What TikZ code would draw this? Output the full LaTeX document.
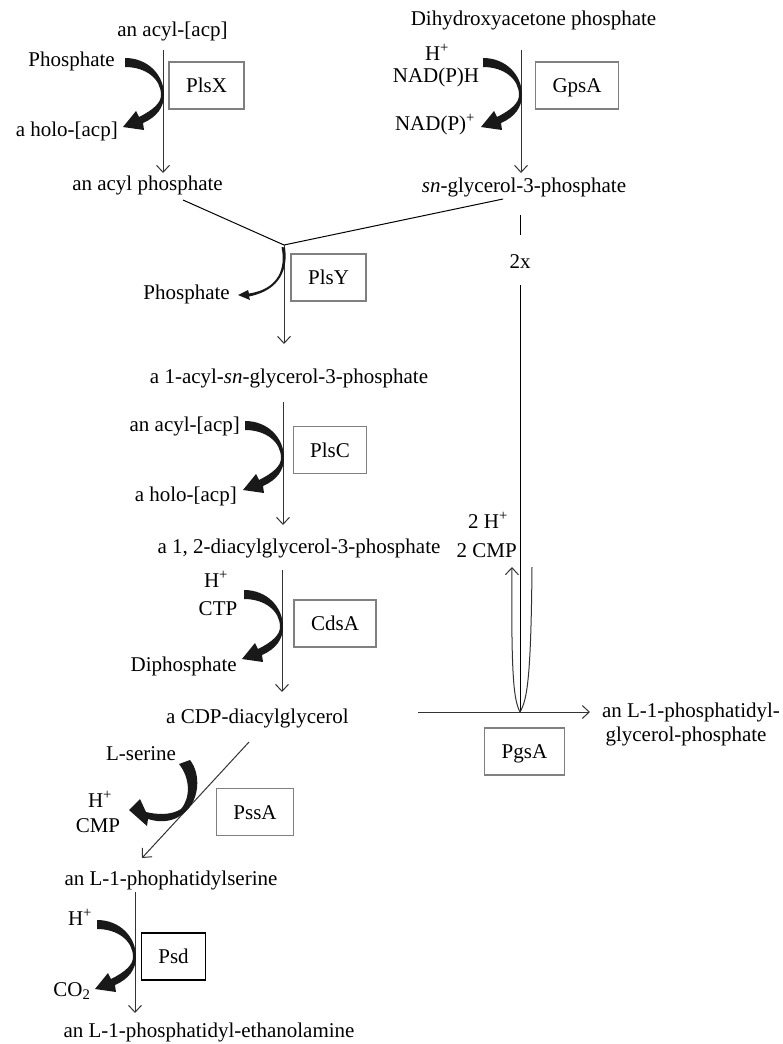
\documentclass[tikz,border=0pt]{standalone}
\usepackage{fontspec}
\setmainfont{Liberation Serif}
\usetikzlibrary{arrows.meta}
\tikzset{
  lbl/.style={inner sep=0pt, anchor=base, font=\fontsize{21}{25}\selectfont},
  lble/.style={lbl, anchor=base east},
  enz/.style={draw=black!50, line width=1.2pt, inner xsep=17pt, inner ysep=0pt,
    minimum height=47pt, text height=14pt, text depth=0pt, font=\fontsize{21}{25}\selectfont},
  flow/.style={draw=black!80, line width=1pt, -{Straight Barb[length=7pt,width=13pt]}},
  plain/.style={draw=black, line width=1pt},
  bend arrow/.pic={\fill[black!90] (-38,-37) .. controls (-15,-37) and (1,-20) .. (1,0)
      .. controls (1,12) and (-6,22) .. (-20,28) -- (-19,35) -- (-40,32) -- (-27,16) -- (-24,22)
      .. controls (-10,15) and (-2,8) .. (-2,0)
      .. controls (-2,-16) and (-17,-28) .. (-38,-28) -- cycle;}
}
\begin{document}
\begin{tikzpicture}[x=1pt,y=-1pt]
\useasboundingbox (0,0) rectangle (782,1044);
% ---------- PlsX ----------
\node[lbl] (acylacp) at (172.5,36) {an acyl-[acp]};
\node[lble] (phos1) at (115,66) {Phosphate};
\node[lble] (holo1) at (118,136) {a holo-[acp]};
\node[lbl] (acylP) at (147.5,190) {an acyl phosphate};
\node[enz] (plsx) at (206.5,85.5) {PlsX};
\coordinate (x1) at (163,50);
\coordinate (x2) at (163,173);
\draw[flow] (x1) -- (x2);
\pic at (163,95) {bend arrow};
% ---------- GpsA ----------
\node[lbl] (dhap) at (533.5,25) {Dihydroxyacetone phosphate};
\node[lbl] (gH) at (437,60) {H\textsuperscript{+}};
\node[lbl] (gNADH) at (436,82) {NAD(P)H};
\node[lbl] (gNADp) at (435,130) {NAD(P)\textsuperscript{+}};
\node[lbl] (g3p) at (524,192) {\textit{sn}-glycerol-3-phosphate};
\node[enz] (gpsa) at (577,85.5) {GpsA};
\coordinate (y1) at (521,50);
\coordinate (y2) at (521,173);
\draw[flow] (y1) -- (y2);
\pic at (521,95) {bend arrow};
% ---------- PlsY ----------
\coordinate (c1) at (183,200);
\coordinate (c2) at (503,199);
\coordinate (j) at (284,245);
\coordinate (j2) at (284,344);
\draw[plain] (c1) -- (j) -- (c2);
\draw[flow] (j) -- (j2);
\node[enz] (plsy) at (328.5,277.5) {PlsY};
\node[lble] (phos2) at (230,299) {Phosphate};
\fill[black!90] (281.5,247) -- (285,247.5) .. controls (288,268) and (281,290) .. (249,296.5)
  -- (250,300) -- (238,295) -- (248,290) -- (249,293.5)
  .. controls (279,289) and (286,268) .. (281.5,247) -- cycle;
\node[lbl] (acylg3p) at (289,383) {a 1-acyl-\textit{sn}-glycerol-3-phosphate};
% ---------- 2x line ----------
\coordinate (v1) at (520,215);
\coordinate (v2) at (520,235);
\coordinate (v3) at (520,285);
\coordinate (pj) at (520,712);
\draw[plain] (v1) -- (v2);
\node[lbl] (twox) at (520,268) {2x};
\draw[plain] (v3) -- (pj);
% ---------- PlsC ----------
\coordinate (p1) at (283,402);
\coordinate (p2) at (283,525);
\draw[flow] (p1) -- (p2);
\node[enz] (plsc) at (330,450) {PlsC};
\node[lble] (acylacp2) at (240,431) {an acyl-[acp]};
\node[lble] (holo2) at (237,501) {a holo-[acp]};
\pic at (283,458) {bend arrow};
\node[lbl] (diacyl) at (299,553) {a 1, 2-diacylglycerol-3-phosphate};
% ---------- CdsA ----------
\coordinate (d1) at (282,570);
\coordinate (d2) at (282,692);
\draw[flow] (d1) -- (d2);
\node[enz] (cdsa) at (335,623.5) {CdsA};
\node[lbl] (cH) at (216,587) {H\textsuperscript{+}};
\node[lbl] (ctp) at (218,615) {CTP};
\node[lble] (diphos) at (237,671) {Diphosphate};
\pic at (282,627) {bend arrow};
\node[lbl] (cdp) at (257.5,723) {a CDP-diacylglycerol};
% ---------- PssA ----------
\coordinate (s1) at (249,742);
\coordinate (s2) at (142,858);
\draw[flow] (s1) -- (s2);
\node[enz] (pssa) at (255,812) {PssA};
\node[lbl] (serine) at (141,760) {L-serine};
\node[lbl] (sH) at (100,807) {H\textsuperscript{+}};
\node[lbl] (cmp) at (98,832) {CMP};
\fill[black!90] (190,760) .. controls (201,774) and (200,800) .. (184,813)
  .. controls (174,822) and (160,823) .. (148,819) -- (147,826) -- (129,810) -- (140,799) -- (146,812)
  .. controls (158,815) and (172,815) .. (181,809)
  .. controls (191,797) and (190,778) .. (179,764) -- cycle;
\node[lbl] (ps) at (171,885) {an L-1-phophatidylserine};
% ---------- Psd ----------
\coordinate (e1) at (135,892);
\coordinate (e2) at (135,1013);
\draw[flow] (e1) -- (e2);
\node[enz, draw=black] (psd) at (173.5,956.5) {Psd};
\node[lbl] (eH) at (80,925) {H\textsuperscript{+}};
\node[lbl] (co2) at (72,996) {CO\textsubscript{2}};
\pic at (135,957) {bend arrow};
\node[lbl] (pe) at (209,1037) {an L-1-phosphatidyl-ethanolamine};
% ---------- PgsA ----------
\coordinate (h1) at (418,712);
\coordinate (h2) at (590,712);
\draw[flow] (h1) -- (h2);
\node[enz] (pgsa) at (524.5,751.5) {PgsA};
\node[lbl] (pgp1) at (691,717) {an L-1-phosphatidyl-};
\node[lbl] (pgp2) at (686,741) {glycerol-phosphate};
\coordinate (r1) at (532,567);
\coordinate (r2) at (512,567);
\draw[plain, draw=black!80] (r1) .. controls (531,680) and (527,700) .. (pj);
\draw[flow] (pj) .. controls (514,700) and (511,680) .. (r2);
\node[lbl] (twoH) at (488,528) {2 H\textsuperscript{+}};
\node[lble] (twoCMP) at (517,557) {2 CMP};
\end{tikzpicture}
\end{document}
